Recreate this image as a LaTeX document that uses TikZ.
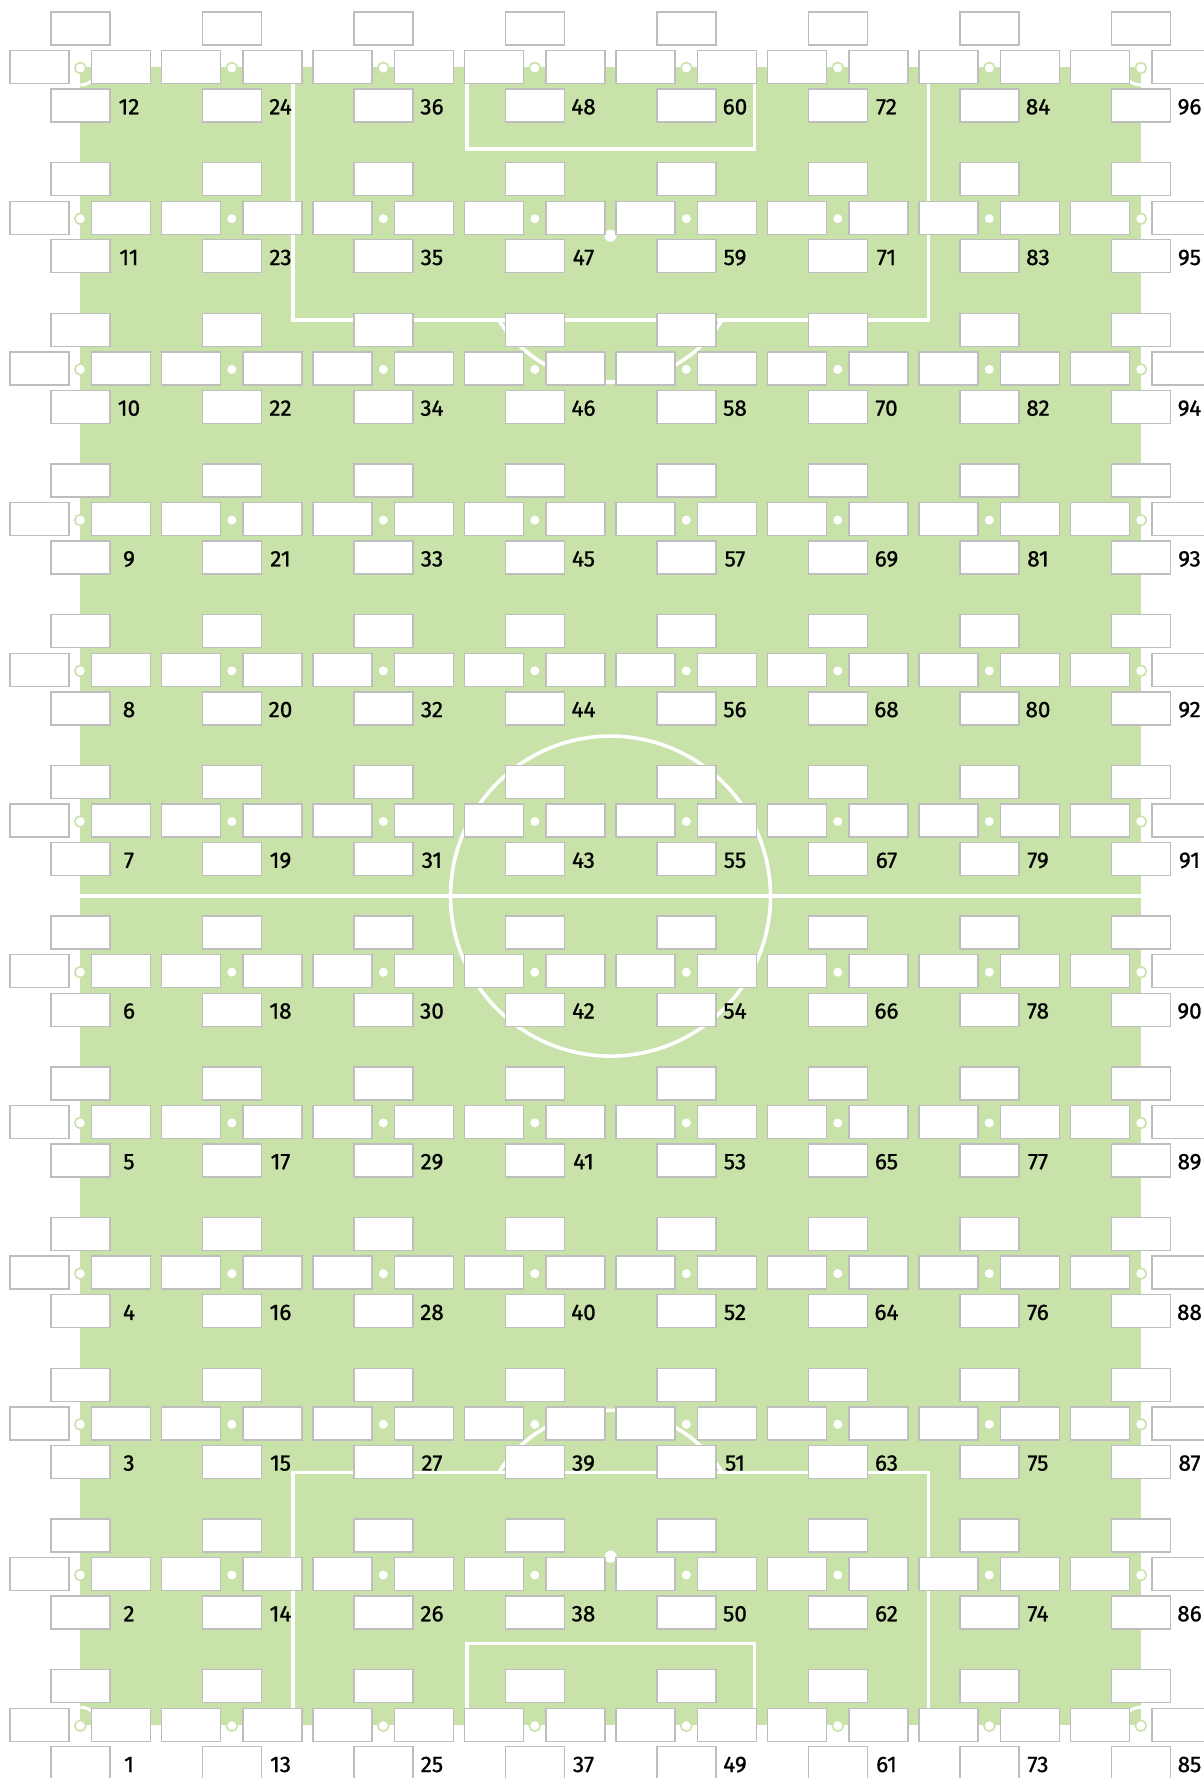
\documentclass[tikz,border=0pt]{standalone}
\usepackage{fontspec}
\setmainfont{Fira Sans}[FakeBold=0.9]
\definecolor{fieldgreen}{RGB}{200,226,169}
\definecolor{boxline}{RGB}{190,190,190}
\begin{document}
\begin{tikzpicture}[x=1pt,y=-1pt,
  slot/.style={draw=boxline, line width=1.4pt, fill=white, minimum width=59pt, minimum height=33pt, inner sep=0pt, outer sep=0pt},
  pitchline/.style={draw=white, line width=3.6pt},
  cornerline/.style={draw=white, line width=3pt},
  gridspot/.style={circle, fill=white, draw=fieldgreen, line width=1.6pt, minimum size=11pt, inner sep=0pt},
  numlabel/.style={font=\fontsize{22.5}{24}\selectfont, text=black, inner sep=0pt, anchor=base}
]
\useasboundingbox (0,0) rectangle (1204,1778);
\clip (0,0) rectangle (1204,1778);
% field
\fill[fieldgreen] (80.3,67) rectangle (1140.8,1725.2);
% halfway line and centre circle
\draw[pitchline] (80.3,896.1) -- (1140.8,896.1);
\draw[pitchline] (610.5,896.1) circle[radius=160pt];
% top penalty area and goal area
\draw[pitchline] (292.7,67) -- (292.7,320) -- (928.3,320) -- (928.3,67);
\draw[pitchline] (466.7,67) -- (466.7,149) -- (754.3,149) -- (754.3,67);
% bottom penalty area and goal area
\draw[pitchline] (292.7,1725.2) -- (292.7,1472.3) -- (928.3,1472.3) -- (928.3,1725.2);
\draw[pitchline] (466.7,1725.2) -- (466.7,1643.3) -- (754.3,1643.3) -- (754.3,1725.2);
% penalty arcs
\begin{scope}
  \clip (0,320) rectangle (1204,600);
  \draw[pitchline] (610.5,250.4) circle[radius=131.6pt];
\end{scope}
\begin{scope}
  \clip (0,1200) rectangle (1204,1472.3);
  \draw[pitchline] (610.5,1541.9) circle[radius=131.6pt];
\end{scope}
% penalty spots
\fill[white] (610.5,235.7) circle[radius=6pt];
\fill[white] (610.5,1556.6) circle[radius=6pt];
% corner arcs
\begin{scope}
  \clip (80.3,67) rectangle (1140.8,1725.2);
  \draw[cornerline] (80.3,67) circle[radius=18pt];
  \draw[cornerline] (1140.8,67) circle[radius=18pt];
  \draw[cornerline] (80.3,1725.2) circle[radius=18pt];
  \draw[cornerline] (1140.8,1725.2) circle[radius=18pt];
\end{scope}
% grid dots
\foreach \k in {0,...,7}{
  \foreach \j in {0,...,11}{
    \pgfmathsetmacro\cx{80.3+151.5*\k}
    \pgfmathsetmacro\cy{67+150.7*\j}
    \node[gridspot] (d-\k-\j) at (\cx,\cy+1) {};
  }
}
% boxes and labels
\foreach \k in {0,...,7}{
  \foreach \j in {0,...,11}{
    \pgfmathsetmacro\cx{80.3+151.5*\k}
    \pgfmathsetmacro\cy{67+150.7*\j}
    \pgfmathtruncatemacro\lbl{12*\k+12-\j}
    \node[slot] (t-\k-\j) at (\cx,\cy-38.6) {};
    \node[slot] (l-\k-\j) at (\cx-40.8,\cy) {};
    \node[slot] (r-\k-\j) at (\cx+40.8,\cy) {};
    \node[slot] (b-\k-\j) at (\cx,\cy+38.5) {};
    \node[numlabel] (n-\k-\j) at (\cx+48.7,\cy+47.3) {\lbl};
  }
}
\end{tikzpicture}
\end{document}
